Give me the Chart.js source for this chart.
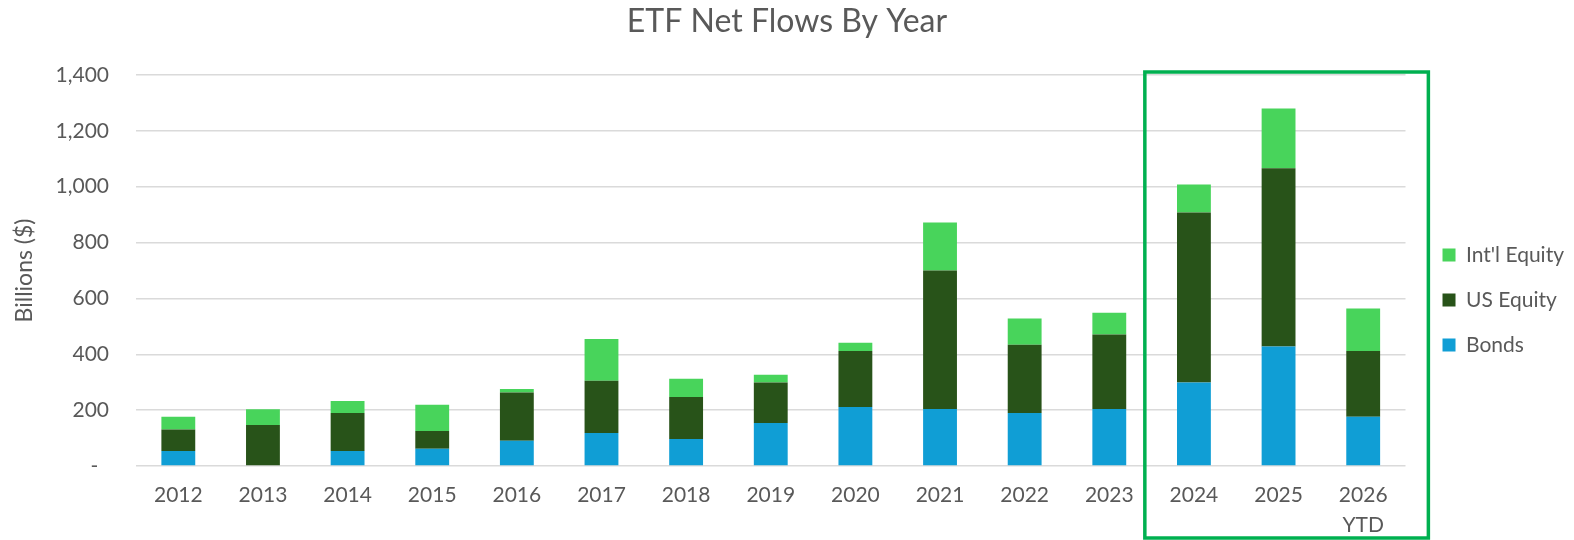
<!DOCTYPE html>
<html>
<head>
<meta charset="utf-8">
<title>ETF Net Flows By Year</title>
<script src="https://cdn.jsdelivr.net/npm/chart.js@4"></script>
<style>
  html, body { margin: 0; padding: 0; background: #fff; }
  #wrap { width: 1574px; height: 540px; position: relative; }
</style>
</head>
<body>
<div id="wrap"><canvas id="flowsChart"></canvas></div>
<script>
// ---- data (billions $) ----
const years = ['2012', '2013', '2014', '2015', '2016', '2017', '2018', '2019',
  '2020', '2021', '2022', '2023', '2024', '2025', ['2026', 'YTD']];
const bonds      = [54, 0, 54, 62, 90, 118, 97, 154, 211, 204, 190, 204, 299, 428, 176];
const usEquity   = [77, 147, 136, 63, 173, 187, 150, 145, 201, 496, 244, 267, 609, 638, 236];
const intlEquity = [45, 56, 43, 94, 13, 150, 65, 28, 29, 172, 94, 78, 100, 214, 152];
const highlightFrom = 12; // 2024 .. end
const yMax = 1400;
const yStep = 200;

const GREY = '#595959';
const FONT = 'Lato, "Open Sans", sans-serif';

// green frame round the last three years
const highlightBox = {
  id: 'highlightBox',
  afterDraw(chart) {
    const x = chart.scales.x, y = chart.scales.y;
    const step = x.getPixelForValue(1) - x.getPixelForValue(0);
    const left = x.getPixelForValue(highlightFrom) - step * 0.58;
    const right = x.getPixelForValue(years.length - 1) + step * 0.77;
    const top = y.getPixelForValue(yMax) - 3;
    const bottom = chart.height - 2;
    const ctx = chart.ctx;
    ctx.save();
    ctx.strokeStyle = '#00B050';
    ctx.lineWidth = 3.5;
    ctx.strokeRect(left, top, right - left, bottom - top);
    ctx.restore();
  }
};

const ctx = document.getElementById('flowsChart');
new Chart(ctx, {
  type: 'bar',
  data: {
    labels: years,
    datasets: [
      { label: 'Bonds', data: bonds, backgroundColor: '#109ED5' },
      { label: 'US Equity', data: usEquity, backgroundColor: '#285319' },
      { label: "Int'l Equity", data: intlEquity, backgroundColor: '#48D45B' }
    ]
  },
  options: {
    responsive: true,
    maintainAspectRatio: false,
    animation: false,
    datasets: { bar: { barPercentage: 0.4, categoryPercentage: 1.0 } },
    layout: { padding: 0 },
    plugins: {
      title: {
        display: true,
        text: 'ETF Net Flows By Year',
        color: GREY,
        font: { family: FONT, size: 32, weight: 'normal' },
        padding: { top: 2, bottom: 34.6 }
      },
      legend: {
        position: 'right',
        reverse: true,
        // blank title only pushes the items down a bit
        title: { display: true, text: '', font: { size: 18 }, padding: { top: 0, bottom: 38.4 } },
        labels: {
          color: GREY,
          font: { family: FONT, size: 21 },
          boxWidth: 13,
          boxHeight: 13,
          padding: 24
        }
      },
      tooltip: { enabled: false }
    },
    scales: {
      x: {
        stacked: true,
        grid: { display: false, drawTicks: false },
        border: { display: false },
        ticks: {
          color: GREY,
          font: { family: FONT, size: 21, lineHeight: 1.45 },
          padding: 14,
          maxRotation: 0,
          autoSkip: false
        },
        afterFit(s) { s.height = 74; }
      },
      y: {
        stacked: true,
        min: 0,
        max: yMax,
        grid: { color: '#dadada', lineWidth: 1.5, drawTicks: false },
        border: { display: false },
        ticks: {
          stepSize: yStep,
          color: GREY,
          font: { family: FONT, size: 21 },
          padding: 27,
          callback: v => v === 0 ? '-  ' : v.toLocaleString('en-US')
        },
        title: {
          display: true,
          text: 'Billions ($)',
          color: GREY,
          font: { family: FONT, size: 23 },
          padding: { top: 11, bottom: 0 }
        },
        afterFit(s) { s.width = 136; }
      },
      // empty strip that keeps the legend clear of the plot
      gap: {
        type: 'linear',
        position: 'right',
        grid: { display: false, drawTicks: false },
        border: { display: false },
        ticks: { display: false },
        afterFit(s) { s.width = 13; }
      }
    }
  },
  plugins: [highlightBox]
});
</script>
</body>
</html>
